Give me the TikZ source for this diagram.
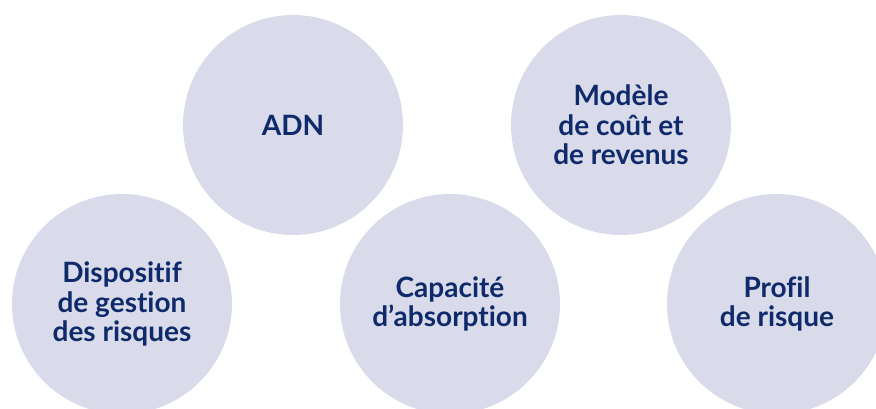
\documentclass[tikz,border=0pt]{standalone}
\usepackage{fontspec}
\setmainfont[Ligatures=NoCommon]{Lato}
\definecolor{bubble}{HTML}{DADBEA}
\definecolor{navy}{HTML}{0F2A6B}
\begin{document}
\begin{tikzpicture}[x=1pt,y=-1pt,
  bub/.style={circle,fill=bubble,minimum size=220pt,inner sep=0pt,
    text=navy,align=center,font=\fontsize{28}{29.5}\selectfont\bfseries}]
\useasboundingbox (0,0) rectangle (876,408);
\clip (0,0) rectangle (876,408);
\node[bub] (adn) at (293,125) {ADN};
\node[bub] (mod) at (621,125) {Modèle\\de coût et\\de revenus};
\node[bub] (dis) at (122,304) {Dispositif\\de gestion\\des risques};
\node[bub] (cap) at (450,304) {Capacité\\d’absorption};
\node[bub] (pro) at (777,304) {Profil\\de risque};
\end{tikzpicture}
\end{document}
